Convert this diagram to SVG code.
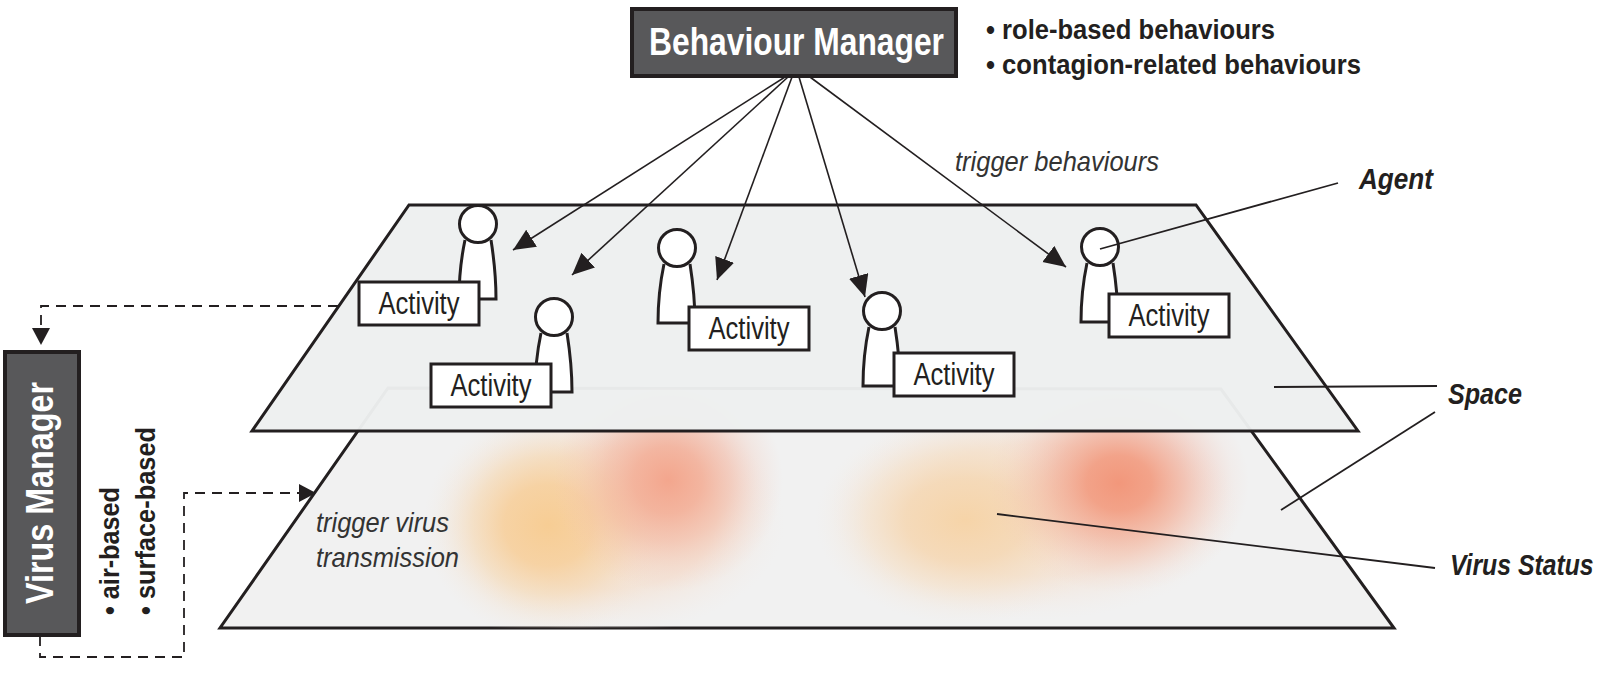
<svg xmlns="http://www.w3.org/2000/svg" width="1600" height="683" viewBox="0 0 1600 683">
<style>
text{font-family:"Liberation Sans",Arial,sans-serif;fill:#231f20}
.plane{stroke:#231f20;stroke-width:3;stroke-linejoin:miter}
.mgr{fill:#58585a;stroke:#231f20;stroke-width:4}
.mt{fill:#fff;font-weight:700;font-size:39px}
.bul{font-weight:700;font-size:28px}
.lab{font-weight:700;font-style:italic;font-size:29px}
.it{font-style:italic;font-size:28px;fill:#333}
.body,.head,.abox{fill:#fff;stroke:#231f20;stroke-width:3}
.atxt{font-size:31px;text-anchor:middle}
.arrow{fill:none;stroke:#231f20;stroke-width:1.6;marker-end:url(#ah)}
.dash{fill:none;stroke:#231f20;stroke-width:1.8;stroke-dasharray:10 7}
.lead{fill:none;stroke:#231f20;stroke-width:1.8}
</style>
<defs>
<marker id="ah" markerUnits="userSpaceOnUse" markerWidth="24" markerHeight="22" refX="22" refY="10" orient="auto"><path d="M0,0L22,10L0,20Z" fill="#231f20"/></marker>
<radialGradient id="red"><stop offset="0" stop-color="#f2977b"/><stop offset=".25" stop-color="#f2977b" stop-opacity=".85"/><stop offset=".5" stop-color="#f2a58e" stop-opacity=".58"/><stop offset=".72" stop-color="#f3b5a2" stop-opacity=".3"/><stop offset=".88" stop-color="#f3c4b4" stop-opacity=".1"/><stop offset="1" stop-color="#f3c4b4" stop-opacity="0"/></radialGradient>
<radialGradient id="red1"><stop offset="0" stop-color="#f39f85" stop-opacity=".9"/><stop offset=".3" stop-color="#f3a58c" stop-opacity=".75"/><stop offset=".55" stop-color="#f3ae97" stop-opacity=".5"/><stop offset=".78" stop-color="#f4bda9" stop-opacity=".22"/><stop offset="1" stop-color="#f4c8b8" stop-opacity="0"/></radialGradient>
<radialGradient id="org"><stop offset="0" stop-color="#f7cd94"/><stop offset=".35" stop-color="#f7cf9a" stop-opacity=".85"/><stop offset=".6" stop-color="#f6d6ab" stop-opacity=".55"/><stop offset=".8" stop-color="#f5dec4" stop-opacity=".25"/><stop offset="1" stop-color="#f3e8dc" stop-opacity="0"/></radialGradient>
<radialGradient id="org2"><stop offset="0" stop-color="#f6d4a8"/><stop offset=".4" stop-color="#f5d8b4" stop-opacity=".85"/><stop offset=".65" stop-color="#f5dfc4" stop-opacity=".55"/><stop offset=".85" stop-color="#f4e5d6" stop-opacity=".22"/><stop offset="1" stop-color="#f3ebe2" stop-opacity="0"/></radialGradient>
<radialGradient id="wash"><stop offset="0" stop-color="#f5dcc8" stop-opacity=".9"/><stop offset=".6" stop-color="#f4e0d0" stop-opacity=".7"/><stop offset=".85" stop-color="#f3e8e0" stop-opacity=".3"/><stop offset="1" stop-color="#f2ece8" stop-opacity="0"/></radialGradient>
<clipPath id="lower"><polygon points="388,388 1221,389 1394,628 220,628"/></clipPath>
<path id="p" d="M-13,16C-17,35 -19,55 -19,75H18C18,55 16,35 13,16"/>
</defs>
<rect width="1600" height="683" fill="#fff"/>

<g id="virus-status-plane">
<polygon class="plane" points="388,388 1221,389 1394,628 220,628" fill="#f1f1f1"/>
<g clip-path="url(#lower)">
<ellipse cx="610" cy="520" rx="175" ry="115" fill="url(#wash)"/>
<ellipse cx="1035" cy="510" rx="205" ry="110" fill="url(#wash)"/>
<ellipse cx="548" cy="525" rx="125" ry="115" fill="url(#org)"/>
<ellipse cx="668" cy="480" rx="115" ry="112" fill="url(#red1)"/>
<ellipse cx="965" cy="520" rx="150" ry="105" fill="url(#org2)"/>
<ellipse cx="1119" cy="483" rx="130" ry="110" fill="url(#red)"/>
</g>
</g>
<g id="space-plane">
<polygon points="409,205 1196,205 1358,431 252,431" fill="#edefef" fill-opacity=".97"/>
<polygon class="plane" points="409,205 1196,205 1358,431 252,431" fill="none"/>
</g>

<g id="connectors">
<line class="arrow" x1="785" y1="77" x2="513" y2="250"/>
<line class="arrow" x1="788" y1="77" x2="572" y2="275"/>
<line class="arrow" x1="792" y1="77" x2="717" y2="280"/>
<line class="arrow" x1="799" y1="77" x2="865" y2="297"/>
<line class="arrow" x1="810" y1="77" x2="1066" y2="267"/>
<path class="dash" d="M338,306H41V330"/>
<path d="M32,328L41,345L50,328Z" fill="#231f20"/>
<path class="dash" d="M40,636V657H184V493H300"/>
<path d="M299,484L316,493L299,502Z" fill="#231f20"/>
</g>

<g id="agent-1"><use href="#p" x="478" y="224" class="body"/><circle class="head" cx="478" cy="224" r="18.5"/><rect class="abox" x="359" y="282" width="120" height="43"/><text class="atxt" x="419" y="314" textLength="81" lengthAdjust="spacingAndGlyphs">Activity</text></g>
<g id="agent-2"><use href="#p" x="554" y="317" class="body"/><circle class="head" cx="554" cy="317" r="18.5"/><rect class="abox" x="431" y="364" width="120" height="43"/><text class="atxt" x="491" y="396" textLength="81" lengthAdjust="spacingAndGlyphs">Activity</text></g>
<g id="agent-3"><use href="#p" x="677" y="248" class="body"/><circle class="head" cx="677" cy="248" r="18.5"/><rect class="abox" x="689" y="307" width="120" height="43"/><text class="atxt" x="749" y="339" textLength="81" lengthAdjust="spacingAndGlyphs">Activity</text></g>
<g id="agent-4"><use href="#p" x="882" y="311" class="body"/><circle class="head" cx="882" cy="311" r="18.5"/><rect class="abox" x="894" y="353" width="120" height="43"/><text class="atxt" x="954" y="385" textLength="81" lengthAdjust="spacingAndGlyphs">Activity</text></g>
<g id="agent-5"><use href="#p" x="1100" y="247" class="body"/><circle class="head" cx="1100" cy="247" r="18.5"/><rect class="abox" x="1109" y="294" width="120" height="43"/><text class="atxt" x="1169" y="326" textLength="81" lengthAdjust="spacingAndGlyphs">Activity</text></g>

<g id="behaviour-manager"><rect class="mgr" x="632" y="9" width="324" height="67"/><text class="mt" x="649" y="55" textLength="295" lengthAdjust="spacingAndGlyphs">Behaviour Manager</text></g>
<g id="behaviour-list">
<text class="bul" x="986" y="39" textLength="289" lengthAdjust="spacingAndGlyphs">• role-based behaviours</text>
<text class="bul" x="986" y="74" textLength="375" lengthAdjust="spacingAndGlyphs">• contagion-related behaviours</text>
</g>
<g id="virus-manager"><rect class="mgr" x="5" y="352" width="74" height="283"/><text class="mt" transform="translate(53,604) rotate(-90)" textLength="222" lengthAdjust="spacingAndGlyphs">Virus Manager</text></g>
<g id="virus-list">
<text class="bul" transform="translate(119,615) rotate(-90)" textLength="128" lengthAdjust="spacingAndGlyphs">• air-based</text>
<text class="bul" transform="translate(155,615) rotate(-90)" textLength="188" lengthAdjust="spacingAndGlyphs">• surface-based</text>
</g>

<g id="annotations">
<text class="it" x="955" y="171" textLength="204" lengthAdjust="spacingAndGlyphs">trigger behaviours</text>
<text class="it" x="316" y="532" textLength="133" lengthAdjust="spacingAndGlyphs">trigger virus</text>
<text class="it" x="316" y="567" textLength="143" lengthAdjust="spacingAndGlyphs">transmission</text>
<line class="lead" x1="1100" y1="249" x2="1338" y2="183"/>
<line class="lead" x1="1274" y1="387" x2="1437" y2="386"/>
<line class="lead" x1="1281" y1="510" x2="1435" y2="412"/>
<line class="lead" x1="997" y1="514" x2="1435" y2="568"/>
<text class="lab" x="1359" y="189" textLength="74" lengthAdjust="spacingAndGlyphs">Agent</text>
<text class="lab" x="1448" y="404" textLength="74" lengthAdjust="spacingAndGlyphs">Space</text>
<text class="lab" transform="translate(1450,575) scale(.87,1)" textLength="165" lengthAdjust="spacingAndGlyphs">Virus Status</text>
</g>
</svg>
